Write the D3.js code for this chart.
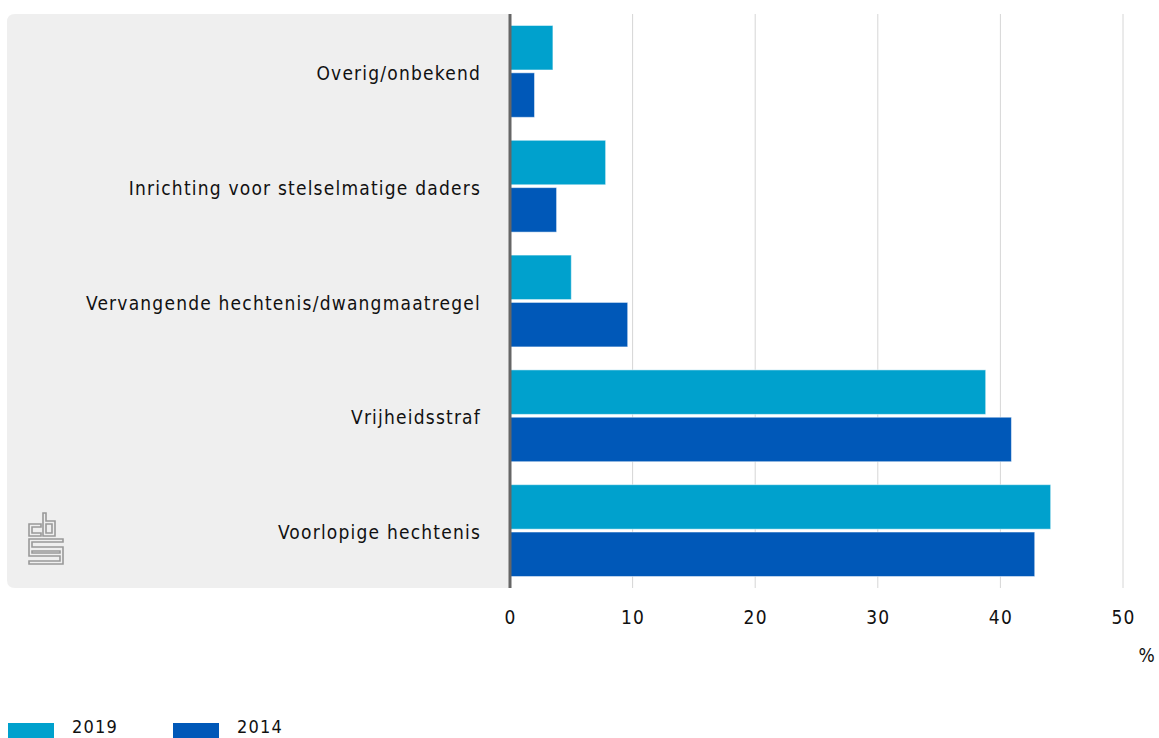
<!DOCTYPE html>
<html>
<head>
<meta charset="utf-8">
<script src="https://cdn.jsdelivr.net/npm/d3@7"></script>
<style>
  body { margin: 0; background: #fff; }
  text { font-family: "DejaVu Sans Condensed", "DejaVu Sans", sans-serif; fill: #111; letter-spacing: 1.2px; }
</style>
</head>
<body>
<div id="chart"></div>
<script>
const categories = ["Overig/onbekend", "Inrichting voor stelselmatige daders", "Vervangende hechtenis/dwangmaatregel", "Vrijheidsstraf", "Voorlopige hechtenis"];
const seriesNames = ["2019", "2014"];
const values2019 = [3.5, 7.8, 5.0, 38.8, 44.1];
const values2014 = [2.0, 3.8, 9.6, 40.9, 42.8];
const xTicks = [0, 10, 20, 30, 40, 50];
const colors = ["#00a1cd", "#0058b8"];

const width = 1159, height = 738;
const margin = { top: 14, left: 510, right: 36, bottom: 150 };
const plotH = height - margin.top - margin.bottom;

const svg = d3.select("#chart").append("svg")
    .attr("width", width)
    .attr("height", height);

// grey panel behind the category labels
svg.append("path")
    .attr("d", `M${margin.left},${margin.top} H15 Q7,${margin.top} 7,${margin.top + 8} V${margin.top + plotH - 8} Q7,${margin.top + plotH} 15,${margin.top + plotH} H${margin.left} Z`)
    .attr("fill", "#efefef");

const x = d3.scaleLinear().domain([0, 50]).range([margin.left, width - margin.right]);
const y = d3.scaleBand().domain(categories).range([margin.top, margin.top + plotH])
    .paddingInner(0.2).paddingOuter(0.1);
const ySub = d3.scaleBand().domain(seriesNames).range([0, y.bandwidth()]).paddingInner(0.06);

// gridlines
svg.append("g").selectAll("line")
    .data(xTicks.filter(d => d > 0))
    .join("line")
    .attr("x1", d => x(d)).attr("x2", d => x(d))
    .attr("y1", margin.top).attr("y2", margin.top + plotH)
    .attr("stroke", "#d6d6d6").attr("stroke-width", 1);

const rows = categories.map((c, i) => ({ cat: c, vals: [values2019[i], values2014[i]] }));

const groups = svg.append("g").selectAll("g")
    .data(rows)
    .join("g")
    .attr("transform", d => `translate(0,${y(d.cat)})`);

groups.selectAll("rect")
    .data(d => d.vals.map((v, j) => ({ key: seriesNames[j], v, j })))
    .join("rect")
    .attr("x", x(0))
    .attr("y", d => ySub(d.key))
    .attr("width", d => x(d.v) - x(0))
    .attr("height", ySub.bandwidth())
    .attr("fill", d => colors[d.j])
    .attr("stroke", "rgba(255,255,255,0.5)")
    .attr("stroke-width", 1);

// category labels
svg.append("g").selectAll("text")
    .data(categories)
    .join("text")
    .attr("x", margin.left - 29)
    .attr("y", d => y(d) + y.bandwidth() / 2 + 2)
    .attr("dy", "0.35em")
    .attr("text-anchor", "end")
    .style("font-size", "19px")
    .text(d => d);

// zero axis line
svg.append("line")
    .attr("x1", x(0)).attr("x2", x(0))
    .attr("y1", margin.top).attr("y2", margin.top + plotH)
    .attr("stroke", "#666").attr("stroke-width", 3);

// x axis tick labels
const xAxis = svg.append("g")
    .attr("transform", `translate(0,${margin.top + plotH})`)
    .call(d3.axisBottom(x).tickValues(xTicks).tickSize(0).tickPadding(23));
xAxis.select(".domain").remove();
xAxis.selectAll("text")
    .style("font-family", "'DejaVu Sans Condensed', sans-serif")
    .style("font-size", "19px")
    .attr("fill", "#111");

svg.append("text")
    .attr("x", width - 3)
    .attr("y", 662)
    .attr("text-anchor", "end")
    .style("font-size", "19px")
    .text("%");

// legend
const legend = svg.append("g").attr("transform", "translate(8,723)");
const items = legend.selectAll("g")
    .data(seriesNames)
    .join("g")
    .attr("transform", (d, i) => `translate(${i * 165},0)`);
items.append("rect")
    .attr("width", 46).attr("height", 15)
    .attr("fill", (d, i) => colors[i]);
items.append("text")
    .attr("x", 64).attr("y", 10)
    .style("font-size", "18px")
    .text(d => d);

// cbs logo (simplified)
const logo = svg.append("g")
    .attr("transform", "translate(29,513)")
    .attr("fill", "none")
    .attr("stroke", "#999")
    .attr("stroke-width", 1.6);
logo.append("path").attr("d", "M0,11 H12 V14 H3 V20 H12 V23 H0 Z");
logo.append("path").attr("d", "M14,0 H17 V8 H26 V23 H14 Z M17,11 V20 H23 V11 Z");
logo.append("path").attr("d", "M0,26 H34 V29 H3 V34 H34 V51 H0 V48 H31 V43 H0 Z");
logo.append("path").attr("d", "M3,38 H31 V40 H3 Z");
</script>
</body>
</html>
